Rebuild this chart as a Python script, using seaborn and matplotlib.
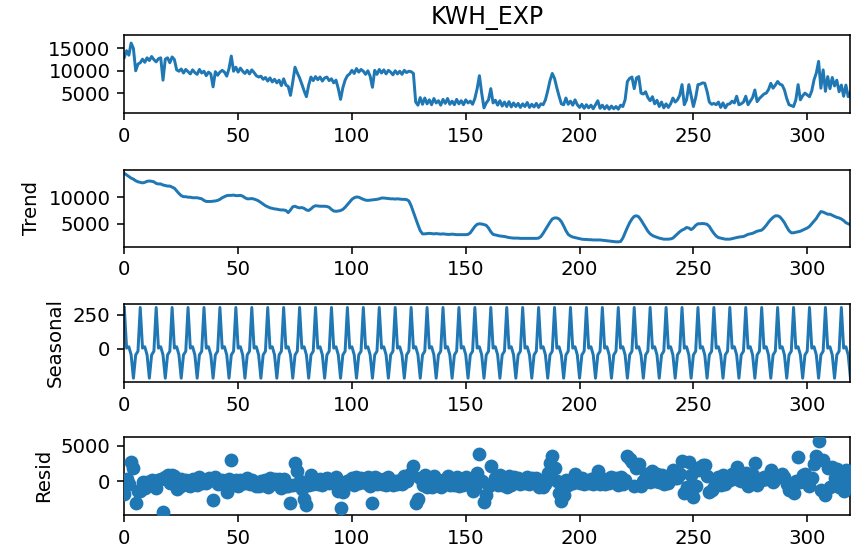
import numpy as np
import pandas as pd
import matplotlib
matplotlib.use("Agg")
import matplotlib.pyplot as plt
import seaborn as sns

title = "KWH_EXP"

observed = [
    13000, 14500, 13500, 16200, 15000, 10000, 11500, 11800, 12600, 11900,
    12900, 12300, 13200, 12500, 12000, 12700, 12900, 7900, 12600, 12900,
    11800, 13100, 12500, 10200, 9900, 10400, 9500, 10300, 9800, 9300,
    10200, 9600, 9200, 10300, 9500, 9900, 8900, 9700, 9300, 6400,
    9800, 9000, 9700, 10100, 9700, 8800, 10500, 13300, 9900, 10800,
    9700, 10600, 9900, 9400, 10100, 9300, 10200, 9600, 8900, 8600,
    8800, 8100, 8500, 7700, 8400, 7500, 8100, 7300, 7900, 6700,
    8200, 6800, 6500, 4500, 7500, 10800, 9500, 8400, 7000, 5500,
    4200, 6800, 8600, 7800, 8700, 8000, 8600, 7700, 8400, 8600,
    7800, 8200, 7300, 7900, 6000, 3600, 6200, 7900, 8900, 9300,
    10100, 9400, 10500, 9700, 10300, 9900, 9200, 10000, 8800, 6300,
    10100, 9200, 10300, 9500, 10200, 9300, 10100, 9700, 9100, 10000,
    9300, 9900, 9200, 10100, 9600, 9900, 9800, 9400, 3000, 2300,
    4000, 2500, 3900, 2600, 3500, 2400, 3800, 2800, 3300, 2300,
    3600, 2700, 3800, 2500, 3200, 2400, 3600, 2600, 3300, 2400,
    3500, 2800, 3200, 2500, 3800, 6000, 8900, 5000, 1700, 2800,
    3500, 6000, 2800, 3400, 2300, 3300, 2100, 3000, 2000, 3100,
    1900, 2800, 2000, 2700, 1800, 2600, 2000, 2900, 1800, 2500,
    1900, 2700, 1800, 2600, 2400, 3500, 5500, 7800, 9400, 8300,
    6200, 4300, 2600, 2400, 3900, 2500, 3200, 2300, 3500, 2400,
    1800, 2500, 1600, 2400, 1700, 2300, 1500, 2400, 3300, 1600,
    2300, 1500, 2200, 1400, 2100, 1500, 2000, 1400, 2300, 2000,
    3500, 7600, 8300, 8600, 6000, 8400, 8700, 5000, 4800, 5300,
    4000, 3300, 4200, 2600, 3400, 2000, 3000, 1700, 2600, 1800,
    2600, 3900, 3000, 3500, 4500, 6900, 2400, 3500, 6900, 4500,
    2000, 4000, 6900, 7000, 7300, 7200, 5400, 3000, 2500, 2700,
    2400, 3000, 1800, 2800, 1700, 2500, 2600, 3200, 2800, 4300,
    2400, 2600, 3000, 4300, 2400, 3200, 4000, 5700, 3100, 3800,
    4300, 4800, 5000, 5800, 7200, 6100, 6800, 7600, 7000, 6800,
    5700, 3800, 2400, 2200, 2000, 3500, 6900, 3500, 4400, 5000,
    4600, 4200, 5500, 8000, 9500, 12100, 6100, 10200, 5400, 8700,
    6000, 8500, 6600, 7900, 5300, 6800, 4300, 6800, 4200, 5200,
]

trend = [
    14500, 14200, 13900, 13600, 13400, 13100, 12900, 12800, 12700, 12800,
    13000, 13050, 13000, 12900, 12600, 12500, 12500, 12300, 12200, 12100,
    12100, 11900, 11700, 11200, 10700, 10300, 10100, 10100, 10000, 10000,
    9900, 9900, 9900, 9800, 9700, 9400, 9200, 9200, 9200, 9250,
    9300, 9400, 9600, 9900, 10100, 10300, 10350, 10350, 10400, 10300,
    10300, 10350, 10200, 9900, 9700, 9700, 9750, 9650, 9500, 9300,
    9000, 8700, 8400, 8200, 8000, 7900, 7800, 7750, 7650, 7600,
    7600, 7500, 7100, 7600, 8200, 8300, 8100, 8000, 8050, 7900,
    7600, 7500, 7800, 8200, 8400, 8350, 8300, 8300, 8300, 8250,
    8100, 7700, 7400, 7350, 7400, 7500, 7700, 8100, 8600, 9100,
    9600, 9900, 10050, 10000, 9800, 9600, 9450, 9400, 9450, 9500,
    9550, 9600, 9700, 9850, 9850, 9800, 9750, 9700, 9700, 9650,
    9700, 9650, 9600, 9600, 9550, 9300, 8400, 7200, 6000, 4800,
    3700, 3100, 3100, 3150, 3200, 3150, 3100, 3150, 3100, 3050,
    3100, 3050, 3000, 3000, 3050, 3000, 2950, 2950, 2950, 2950,
    2950, 3000, 3300, 3900, 4500, 4900, 5000, 4950, 4850, 4700,
    4200, 3500, 3000, 2900, 2800, 2700, 2650, 2600, 2500, 2400,
    2350, 2300, 2300, 2300, 2250, 2250, 2250, 2250, 2250, 2250,
    2250, 2250, 2300, 2600, 3200, 3900, 4600, 5300, 5900, 6100,
    6100, 5900, 5400, 4600, 3700, 3000, 2700, 2500, 2400, 2300,
    2200, 2100, 2050, 2050, 2000, 2000, 1950, 1950, 1950, 1950,
    1900, 1850, 1800, 1750, 1700, 1650, 1600, 1600, 1650, 2300,
    3300, 4300, 5200, 5900, 6400, 6500, 6300, 5700, 5000, 4300,
    3600, 3100, 2800, 2600, 2450, 2300, 2200, 2100, 2100, 2100,
    2150, 2300, 2700, 3100, 3500, 3800, 4000, 4300, 4200, 3900,
    4200, 4700, 5000, 5000, 5050, 5000, 4900, 4500, 3800, 3200,
    2700, 2400, 2300, 2200, 2100, 2100, 2100, 2200, 2300, 2400,
    2500, 2550, 2600, 2800, 3000, 3100, 3200, 3400, 3600, 3700,
    3800, 4200, 4700, 5300, 5800, 6200, 6500, 6500, 6300, 5800,
    5200, 4400, 3700, 3300, 3300, 3400, 3500, 3600, 3800, 4000,
    4200, 4500, 5000, 5500, 6000, 6700, 7300, 7200, 7000, 6800,
    6800, 6600, 6400, 6200, 6100, 5900, 5600, 5200, 5000, 4800,
]

# one weekly cycle of the seasonal component (period 7)
seasonal_cycle = [305, 5, 15, -45, -217, -45, -18]

panel_labels = ["", "Trend", "Seasonal", "Resid"]
x_ticks = [0, 50, 100, 150, 200, 250, 300]
y_ticks = [[5000, 10000, 15000], [5000, 10000], [0, 250], [0, 5000]]
y_limits = [(600, 17900), (684, 15133), (-243, 331), (-4722, 6250)]

n = len(observed)
t = np.arange(n)
seasonal = np.tile(seasonal_cycle, n // len(seasonal_cycle) + 1)[:n]
resid = np.array(observed, float) - np.array(trend, float) - seasonal

df = pd.DataFrame({
    "t": t,
    "Observed": observed,
    "Trend": trend,
    "Seasonal": seasonal,
    "Resid": resid,
})

plt.rcParams["font.family"] = ["DejaVu Sans"]
DPI = 142
fig = plt.figure(figsize=(852 / DPI, 552 / DPI), dpi=DPI)

left, width = 0.1459, 0.8523
rects = [
    (left, 0.7957, width, 0.1400),
    (left, 0.5531, width, 0.1390),
    (left, 0.3085, width, 0.1408),
    (left, 0.0670, width, 0.1420),
]
color = "#1f77b4"
cols = ["Observed", "Trend", "Seasonal", "Resid"]
axes = []
for i, (rect, col) in enumerate(zip(rects, cols)):
    ax = fig.add_axes(rect)
    if col == "Resid":
        sns.scatterplot(data=df, x="t", y=col, ax=ax, s=36, color=color,
                        edgecolor=color, linewidth=1, zorder=3)
    else:
        sns.lineplot(data=df, x="t", y=col, ax=ax, color=color,
                     linewidth=1.5, estimator=None)
    ax.set_xlim(0, n - 1)
    ax.set_ylim(*y_limits[i])
    ax.set_xticks(x_ticks)
    ax.set_yticks(y_ticks[i])
    ax.set_xlabel("")
    ax.set_ylabel(panel_labels[i])
    axes.append(ax)

axes[0].set_title(title)

fig.savefig("out.png", dpi=DPI)
